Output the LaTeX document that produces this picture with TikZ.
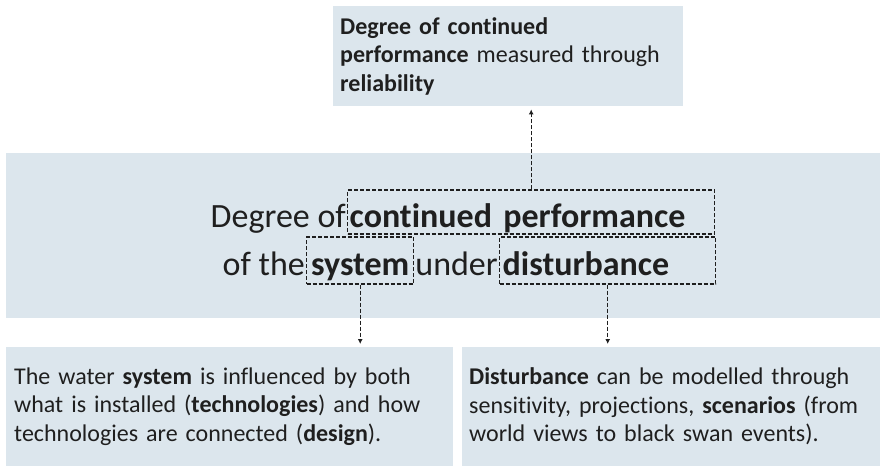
\documentclass[tikz,border=0pt]{standalone}
\usepackage{fontspec}
\setmainfont{Carlito}[Ligatures={NoCommon,NoContextual,NoRequired}]
\usetikzlibrary{arrows.meta}
\definecolor{box area}{RGB}{220,230,237}
\colorlet{ink}{black!88}
\tikzset{infobox/.style={fill=box area, text=ink, align=left, inner ysep=0pt,
    font=\fontsize{24}{28.5}\selectfont},
  markbox/.style={draw=ink, line width=1.4pt, dash pattern=on 4pt off 2pt,
    inner ysep=0pt, text=ink, font=\fontsize{34}{40}\selectfont\bfseries},
  plain/.style={text=ink, inner xsep=1pt, inner ysep=0pt, font=\fontsize{34}{40}\selectfont},
  link/.style={draw=ink, line width=1.4pt, dash pattern=on 4pt off 2pt,
    -{Latex[length=5pt,width=5pt]}, shorten >=3pt}}

\begin{document}
\begin{tikzpicture}[x=1pt,y=-1pt]
  \useasboundingbox (0,0) rectangle (883,466);
  \node[infobox, anchor=north west, text width=336pt, inner xsep=7pt, minimum height=100pt] (top) at (333,6)
    {\textbf{Degree of continued}\\ \textbf{performance} measured through\\ \textbf{reliability}};
  \node[infobox, anchor=north west, minimum width=874pt, minimum height=165pt] (band) at (6,153) {};
  \node[infobox, anchor=north west, text width=431pt, inner xsep=8pt, minimum height=119pt] (tech) at (6,347)
    {The water \textbf{system} is influenced by both\\ what is installed (\textbf{technologies}) and how\\ technologies are connected (\textbf{design}).};
  \node[infobox, anchor=north west, text width=404pt, inner xsep=7pt, minimum height=119pt] (model) at (462,347)
    {\textbf{Disturbance} can be modelled through\\ sensitivity, projections, \textbf{scenarios} (from\\ world views to black swan events).};

  \node[markbox, anchor=base west, text width=363pt, inner xsep=2pt, align=left,
    text height=37pt, text depth=7pt] (cp) at (347,227) {continued performance};
  \node[markbox, anchor=base west, minimum width=107pt, text height=38pt, text depth=9pt] (sys) at (306,275) {system};
  \node[markbox, anchor=base west, text width=210pt, inner xsep=3pt, align=left,
    text height=38pt, text depth=9pt] (dist) at (499,275) {disturbance};
  \node[plain, anchor=base east] (degree) at (cp.base west) {Degree of};
  \node[plain, anchor=base east] (ofthe) at (sys.base west) {of the};
  \node[plain, anchor=base east] (under) at (dist.base west) {under};

  \draw[link] (cp.north) -- (cp.north |- top.south);
  \draw[link] (sys.south) -- (sys.south |- tech.north);
  \draw[link] (dist.south) -- (dist.south |- model.north);
\end{tikzpicture}
\end{document}
